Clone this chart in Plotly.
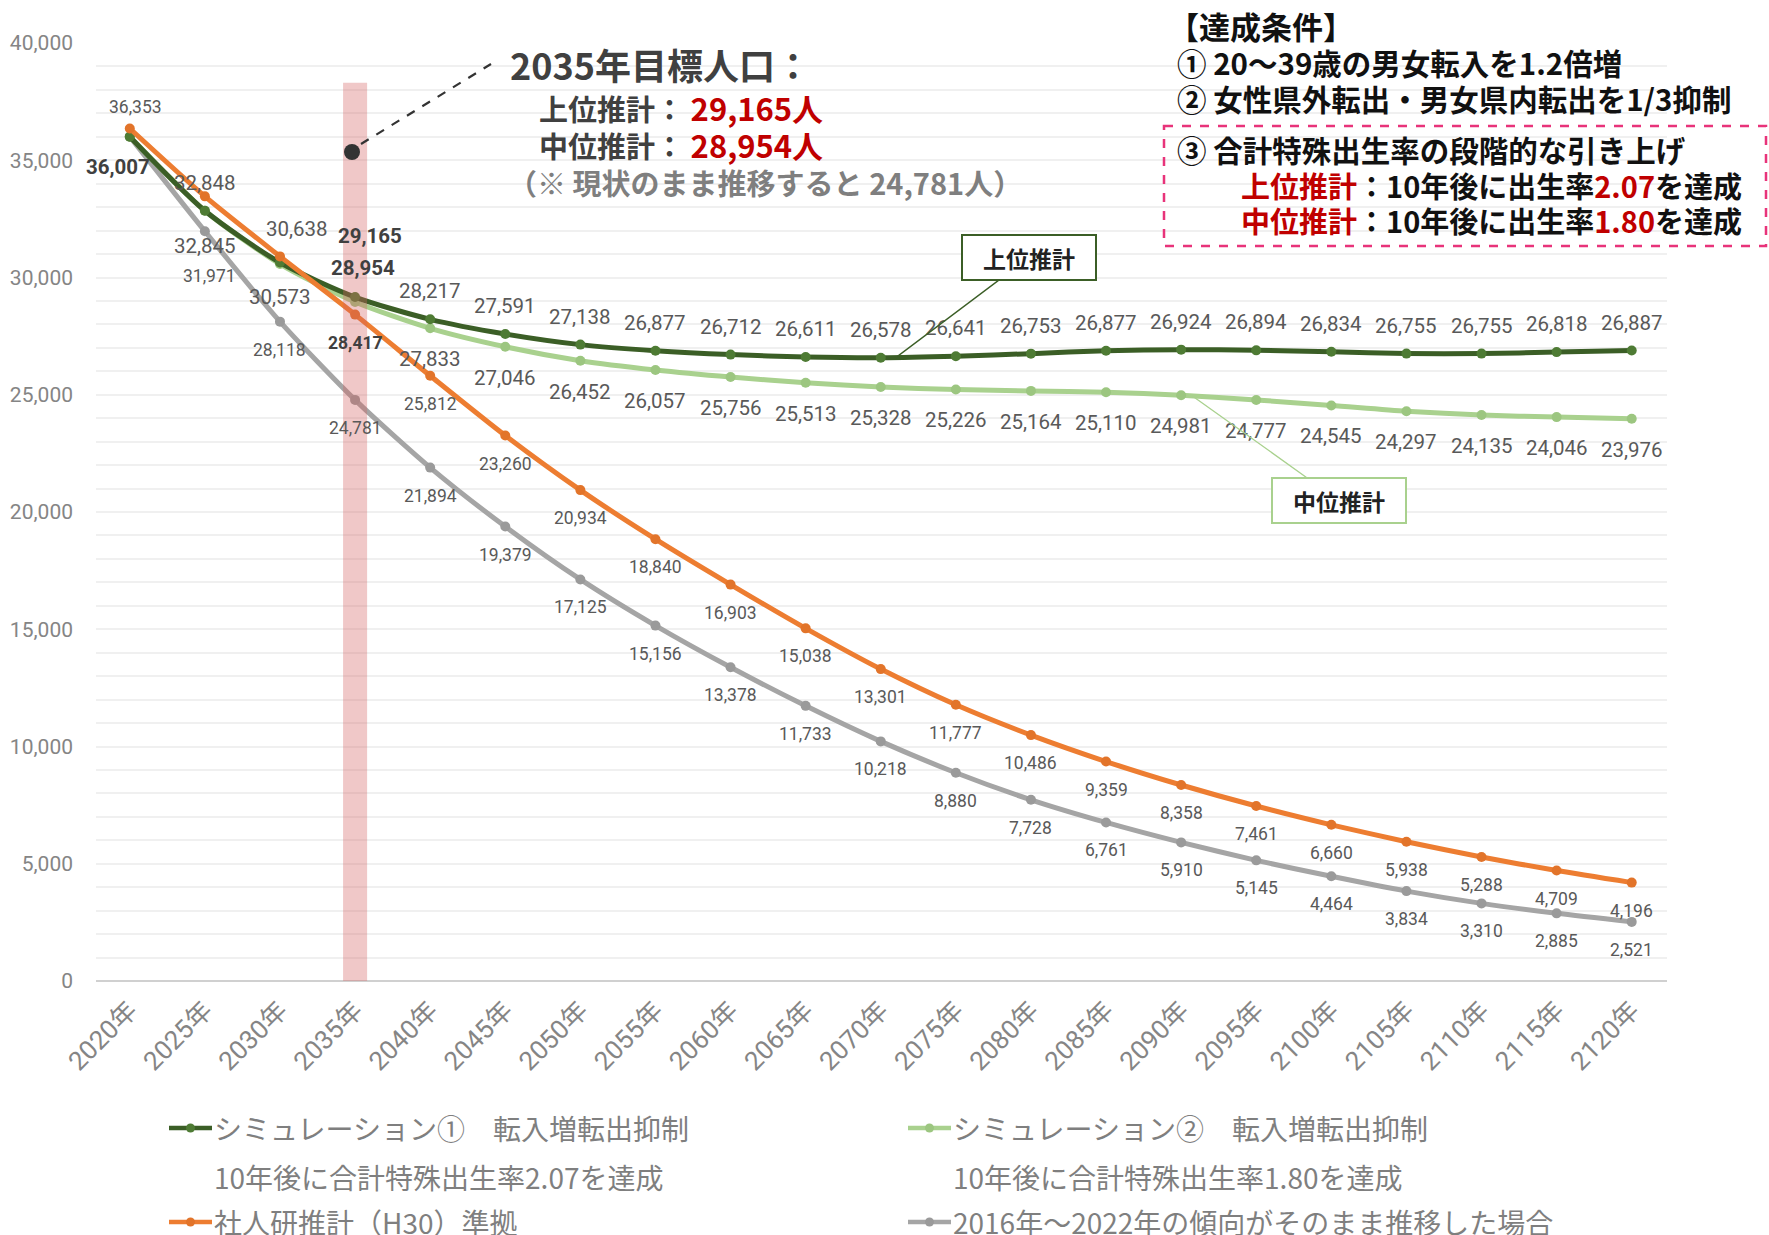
import plotly.graph_objects as go

# ---- data ----
years = ["2020年", "2025年", "2030年", "2035年", "2040年", "2045年", "2050年", "2055年",
         "2060年", "2065年", "2070年", "2075年", "2080年", "2085年", "2090年", "2095年",
         "2100年", "2105年", "2110年", "2115年", "2120年"]
sim1 = [36007, 32848, 30638, 29165, 28217, 27591, 27138, 26877, 26712, 26611, 26578,
        26641, 26753, 26877, 26924, 26894, 26834, 26755, 26755, 26818, 26887]
sim2 = [36007, 32845, 30573, 28954, 27833, 27046, 26452, 26057, 25756, 25513, 25328,
        25226, 25164, 25110, 24981, 24777, 24545, 24297, 24135, 24046, 23976]
ipss = [36353, 33460, 30900, 28417, 25812, 23260, 20934, 18840, 16903, 15038, 13301,
        11777, 10486, 9359, 8358, 7461, 6660, 5938, 5288, 4709, 4196]
trend = [36007, 31971, 28118, 24781, 21894, 19379, 17125, 15156, 13378, 11733, 10218,
         8880, 7728, 6761, 5910, 5145, 4464, 3834, 3310, 2885, 2521]

names = ["シミュレーション①　転入増転出抑制", "シミュレーション②　転入増転出抑制",
         "社人研推計（H30）準拠", "2016年～2022年の傾向がそのまま推移した場合"]
subnames = ["10年後に合計特殊出生率2.07を達成", "10年後に合計特殊出生率1.80を達成", "", ""]

# ---- layout helpers (pixels -> paper) ----
W, H = 1769, 1235
L, R, T, B = 96, 102, 43, 254
def px(x):
    return (x - L) / (W - L - R)
def py(y):
    return (H - B - y) / (H - T - B)

NUM = "Roboto, sans-serif"
JP = "Noto Sans CJK JP, sans-serif"

xs = list(range(len(years)))
fig = go.Figure()

series = [
    (trend, "#a5a5a5", "#9a9a9a"),
    (sim2, "#a9d18e", "#9cc680"),
    (sim1, "#3b5e26", "#4e7b34"),
    (ipss, "#ed7d31", "#e2742a"),
]
for vals, lc, mc in series:
    fig.add_trace(go.Scatter(
        x=xs, y=vals, mode="lines+markers",
        line=dict(color=lc, width=5, shape="spline", smoothing=0.7),
        marker=dict(color=mc, size=10),
        showlegend=False, hoverinfo="skip"))

# ---- data labels ----
def add_labels(vals, dy, size, skip=(), over=None, bold=(), color="#595959"):
    over = over or {}
    for i, v in enumerate(vals):
        if i in skip:
            continue
        dx, d = over.get(i, (0, dy))
        txt = f"{v:,}"
        if i in bold:
            txt = f"<b>{txt}</b>"
        fig.add_annotation(x=i, y=v, text=txt, showarrow=False, xshift=dx, yshift=d,
                           font=dict(family=NUM, size=size,
                                     color="#404040" if i in bold else color))

add_labels(sim1, 28, 20.5, over={0: (-12, -30), 2: (17, 34), 3: (15, 61)}, bold=(0, 3))
add_labels(sim2, -31, 20.5, skip=(0,), over={1: (0, -35), 2: (0, -33), 3: (8, 34)}, bold=(3,))
add_labels(ipss, -28, 17.5, skip=(1, 2), over={0: (6, 22)}, bold=(3,))
add_labels(trend, -28, 17.5, skip=(0,), over={1: (5, -45)})

# ---- 2035 band, dot and callout ----
fig.add_shape(type="rect", xref="x", yref="y", x0=2.84, x1=3.16, y0=0, y1=38300,
              fillcolor="rgba(212,98,98,0.35)", line_width=0, layer="above")
fig.add_shape(type="line", xref="paper", yref="paper", x0=px(361), y0=py(144), x1=px(491), y1=py(64),
              line=dict(color="#333333", width=2.2, dash="dash"))
fig.add_shape(type="circle", xref="paper", yref="paper", x0=px(344), x1=px(360), y0=py(144), y1=py(160),
              fillcolor="#333333", line_width=0)

def note(x, y, text, size, color):
    fig.add_annotation(xref="paper", yref="paper", x=px(x), y=py(y), xanchor="left", yanchor="middle",
                       showarrow=False, text=text, font=dict(family=JP, size=size, color=color))

note(508, 64, "<b>2035年目標人口：</b>", 36, "#404040")
for yy, lab, v in [(107, "上位推計", sim1[3]), (145, "中位推計", sim2[3])]:
    note(537, yy, f"<b>{lab}： <span style='color:#c00000;font-size:31px'>{v:,}人</span></b>", 29, "#404040")
note(506, 182, f"<b>（※ 現状のまま推移すると {trend[3]:,}人）</b>", 29, "#7f7f7f")

# ---- conditions block ----
note(1166, 25, "<b>【達成条件】</b>", 31, "#111111")
note(1175, 62, "<b>① 20～39歳の男女転入を1.2倍増</b>", 29.5, "#111111")
note(1175, 98, "<b>② 女性県外転出・男女県内転出を1/3抑制</b>", 29.5, "#111111")
note(1175, 149, "<b>③ 合計特殊出生率の段階的な引き上げ</b>", 29.5, "#111111")
note(1239, 185, "<b><span style='color:#c00000'>上位推計</span>：10年後に出生率"
     "<span style='color:#c00000'>2.07</span>を達成</b>", 29, "#111111")
note(1239, 220, "<b><span style='color:#c00000'>中位推計</span>：10年後に出生率"
     "<span style='color:#c00000'>1.80</span>を達成</b>", 29, "#111111")
fig.add_shape(type="rect", xref="paper", yref="paper", x0=px(1164), x1=px(1766), y0=py(126), y1=py(246),
              line=dict(color="#e8337a", width=2.5, dash="dash"))

# ---- series callout boxes ----
fig.add_annotation(x=10.2, y=sim1[10] + 5, text="<b>上位推計</b>", showarrow=True, arrowhead=0,
                   arrowwidth=1.3, arrowcolor="#3b5e26", ax=133, ay=-100, width=122, height=33,
                   bgcolor="white", bordercolor="#3b5e26", borderwidth=2, borderpad=5,
                   font=dict(family=JP, size=23, color="#222222"))
fig.add_annotation(x=14.15, y=24950, text="<b>中位推計</b>", showarrow=True, arrowhead=0,
                   arrowwidth=1.3, arrowcolor="#a9d18e", ax=147, ay=105, width=122, height=33,
                   bgcolor="white", bordercolor="#a9d18e", borderwidth=2, borderpad=5,
                   font=dict(family=JP, size=23, color="#222222"))

# ---- hand-drawn legend ----
leg_pos = [(169, 1128), (908, 1128), (169, 1222), (908, 1222)]
leg_col = [("#3b5e26", "#4e7b34"), ("#a9d18e", "#9cc680"), ("#ed7d31", "#e2742a"), ("#a5a5a5", "#9a9a9a")]
for (lx, ly), (lc, mc), nm, sub in zip(leg_pos, leg_col, names, subnames):
    fig.add_shape(type="line", xref="paper", yref="paper", x0=px(lx), x1=px(lx + 43), y0=py(ly), y1=py(ly),
                  line=dict(color=lc, width=4.5))
    fig.add_shape(type="circle", xref="paper", yref="paper", x0=px(lx + 17), x1=px(lx + 26),
                  y0=py(ly - 4.5), y1=py(ly + 4.5), fillcolor=mc, line_width=0)
    note(lx + 43, ly, nm, 28, "#7f7f7f")
    if sub:
        note(lx + 43, ly + 49, sub, 28, "#7f7f7f")

fig.update_layout(
    width=W, height=H, margin=dict(l=L, r=R, t=T, b=B, autoexpand=False),
    paper_bgcolor="white", plot_bgcolor="white", showlegend=False,
    xaxis=dict(range=[-0.45, 20.47], tickvals=xs, ticktext=years, tickangle=-45, automargin=False,
               showgrid=False, zeroline=False, showline=False, ticks="",
               tickfont=dict(family=NUM + ", " + JP, size=26, color="#858585"), ticklabelstandoff=8),
    yaxis=dict(range=[0, 40000], dtick=5000, tickformat=",", showgrid=True, gridcolor="#f0f0f0",
               automargin=False, gridwidth=1.5,
               minor=dict(dtick=1000, showgrid=True, gridcolor="#f0f0f0", gridwidth=1.5),
               zeroline=True, zerolinecolor="#d0d0d0", zerolinewidth=1.5, showline=False, ticks="",
               tickfont=dict(family=NUM, size=21, color="#858585"), ticklabelstandoff=22),
)

fig.write_html("out.html", config={"displayModeBar": False},
               post_script="document.body.style.margin='0';")
